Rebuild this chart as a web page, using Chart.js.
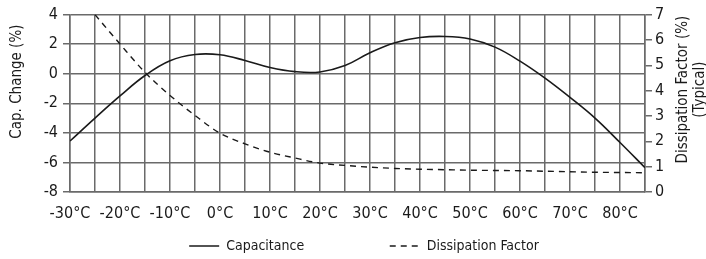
<!DOCTYPE html>
<html><head><meta charset="utf-8">
<script src="https://cdn.jsdelivr.net/npm/chart.js@4.4.1/dist/chart.umd.min.js"></script>
<style>html,body{margin:0;padding:0;background:#fff;}#c{display:block;}</style>
</head><body>
<canvas id="c" width="706" height="259"></canvas>
<script>
// ---- data ----
const temps = [-30,-25,-20,-15,-10,-5,0,5,10,15,20,25,30,35,40,45,50,55,60,65,70,75,80,85];
const capacitance = [-4.55,-3.0,-1.5,-0.12,0.88,1.3,1.28,0.9,0.42,0.14,0.12,0.55,1.42,2.1,2.45,2.52,2.35,1.8,0.85,-0.3,-1.6,-3.0,-4.65,-6.35];
const dfTemps = [-25,-20,-15,-10,-5,0,5,10,15,20,25,30,35,40,45,50,55,60,65,70,75,80,85];
const dissipation = [7.0,5.84,4.72,3.81,3.02,2.32,1.9,1.57,1.34,1.14,1.05,0.98,0.93,0.9,0.88,0.86,0.85,0.84,0.82,0.8,0.78,0.77,0.76];
const xTickValues = [-30,-20,-10,0,10,20,30,40,50,60,70,80];
const leftTicks = [-8,-6,-4,-2,0,2,4];
const rightTicks = [0,1,2,3,4,5,6,7];
const seriesNames = ['Capacitance','Dissipation Factor'];
const leftTitle = 'Cap. Change (%)';
const rightTitle = ['Dissipation Factor (%)','(Typical)'];

const FONT = "'Liberation Sans Narrow','DejaVu Sans Condensed','Arial Narrow',sans-serif";
const GRID = '#6a6a6a';
const INK = '#1a1a1a';
Chart.defaults.font.family = FONT;
Chart.defaults.color = INK;

const axisTitles = {
  id: 'axisTitles',
  afterDraw(chart) {
    const ctx = chart.ctx, ca = chart.chartArea;
    ctx.save();
    ctx.fillStyle = INK;
    ctx.font = '15px ' + FONT;
    ctx.textAlign = 'center';
    ctx.textBaseline = 'middle';
    const rot = (t, x, y) => { ctx.save(); ctx.translate(x, y); ctx.rotate(-Math.PI/2); ctx.fillText(t, 0, 0); ctx.restore(); };
    rot(leftTitle, 17, ca.top + 67);
    rot(rightTitle[0], chart.width - 23, ca.top + 75);
    rot(rightTitle[1], chart.width - 6, ca.top + 75);
    ctx.restore();
  }
};

new Chart(document.getElementById('c'), {
  type: 'line',
  data: {
    datasets: [
      { label: seriesNames[0], data: temps.map((t, i) => ({x: t, y: capacitance[i]})), yAxisID: 'yL',
        borderColor: INK, backgroundColor: INK, borderWidth: 1.6, pointRadius: 0,
        tension: 0.4, fill: false },
      { label: seriesNames[1], data: dfTemps.map((t, i) => ({x: t, y: dissipation[i]})), yAxisID: 'yR',
        borderColor: INK, backgroundColor: INK, borderWidth: 1.4, borderDash: [6, 5], pointRadius: 0,
        cubicInterpolationMode: 'monotone', fill: false }
    ]
  },
  options: {
    responsive: false, animation: false, devicePixelRatio: 1,
    layout: { padding: { left: 22, right: 0, top: 14, bottom: -4 } },
    plugins: {
      tooltip: { enabled: false },
      legend: {
        position: 'bottom',
        labels: {
          usePointStyle: true, pointStyle: 'line', pointStyleWidth: 30, padding: 10,
          font: { size: 14 }, color: INK,
          generateLabels(chart) {
            const items = Chart.defaults.plugins.legend.labels.generateLabels(chart);
            items.forEach((it) => {
              const ds = chart.data.datasets[it.datasetIndex];
              it.lineDash = ds.borderDash || [];
              it.lineWidth = 1.5;
              it.strokeStyle = ds.borderColor;
            });
            items[0].text = items[0].text + '\u2003'.repeat(6);
            return items;
          }
        }
      }
    },
    scales: {
      x: {
        type: 'linear', min: -30, max: 85,
        ticks: { stepSize: 5, autoSkip: false, maxRotation: 0, padding: 12, font: { size: 16 }, color: INK,
          callback: v => xTickValues.includes(v) ? v + '°C' : '' },
        grid: { color: GRID, lineWidth: 1.5, drawTicks: false },
        border: { color: GRID, width: 1.5 },
        afterFit(s) { s.height = 37; }
      },
      yL: {
        position: 'left', min: -8, max: 4,
        ticks: { stepSize: 2, padding: 5, font: { size: 16 }, color: INK,
          callback: v => leftTicks.includes(v) ? String(v) : '' },
        grid: { color: GRID, lineWidth: 1.5, tickLength: 7 },
        border: { color: GRID, width: 1.5 },
        afterFit(s) { s.width = 48; }
      },
      yR: {
        position: 'right', min: 0, max: 7,
        ticks: { stepSize: 1, padding: 3, font: { size: 16 }, color: INK,
          callback: v => rightTicks.includes(v) ? String(v) : '' },
        grid: { drawOnChartArea: false, color: GRID, lineWidth: 1.5, tickLength: 7 },
        border: { color: GRID, width: 1.5 },
        afterFit(s) { s.width = 61; }
      }
    }
  },
  plugins: [axisTitles]
});
</script>
</body></html>
